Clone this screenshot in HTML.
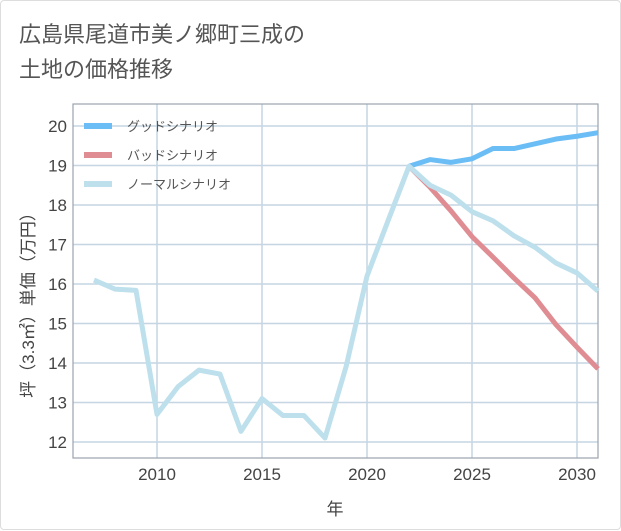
<!DOCTYPE html>
<html><head><meta charset="utf-8"><style>
body{margin:0;background:#fff;font-family:"Liberation Sans","Noto Sans CJK JP",sans-serif;}
#card{position:absolute;left:0;top:0;width:619px;height:528px;border:1px solid #ddd;border-radius:4px;background:#fff;}
#title{position:absolute;left:18px;top:16px;font-size:22px;line-height:35px;color:#555;}
</style></head><body>
<div id="card">
<div id="title">広島県尾道市美ノ郷町三成の<br>土地の価格推移</div>
<svg id="chart" width="621" height="530" style="position:absolute;left:0;top:0"></svg>
</div>
<script>
const years=[2007,2008,2009,2010,2011,2012,2013,2014,2015,2016,2017,2018,2019,2020,2021,2022,2023,2024,2025,2026,2027,2028,2029,2030,2031];
const normalValues=[16.1,15.87,15.84,12.7,13.4,13.82,13.72,12.27,13.1,12.67,12.67,12.1,13.9,16.2,17.6,18.98,18.5,18.25,17.83,17.6,17.22,16.93,16.53,16.28,15.82];
const goodYears=[2022,2023,2024,2025,2026,2027,2028,2029,2030,2031];
const goodValues=[18.98,19.15,19.08,19.17,19.43,19.43,19.55,19.67,19.74,19.83];
const badValues=[18.98,18.45,17.85,17.2,16.68,16.15,15.65,14.97,14.4,13.85];
const xTicks=[2010,2015,2020,2025,2030];
const yTicks=[12,13,14,15,16,17,18,19,20];
const legendLabels=["グッドシナリオ","バッドシナリオ","ノーマルシナリオ"];
const L=72,R=597,T=103,B=457;
const x=v=>L+(v-2006)/(2031-2006)*(R-L);
const y=v=>441-(v-12)*39.5;
const svg=document.getElementById('chart');
const NS='http://www.w3.org/2000/svg';
function mk(tag,attrs){const e=document.createElementNS(NS,tag);for(const k in attrs)e.setAttribute(k,attrs[k]);svg.appendChild(e);return e;}
for(const t of yTicks){
 const g=mk('line',{x1:L,x2:R,y1:y(t),y2:y(t),stroke:'#c5d5e2','stroke-width':1.5});
 
 
 const tx=mk('text',{x:L-6,y:y(t)+6,'text-anchor':'end','font-size':17,fill:'#444'});
 tx.textContent=t;
 
 
}
for(const t of xTicks){
 const g=mk('line',{x1:x(t),x2:x(t),y1:T,y2:B,stroke:'#c5d5e2','stroke-width':1.5});
 
 
 const tx=mk('text',{x:x(t),y:B+22,'text-anchor':'middle','font-size':17,fill:'#444'});
 tx.textContent=t;
 
 
}
const frame=mk('rect',{x:L,y:T,width:R-L,height:B-T,fill:'none',stroke:'#99a4ae','stroke-width':1.2});


function line(xs,vs,color,name){
 const p=mk('polyline',{points:xs.map((v,i)=>x(v)+','+y(vs[i])).join(' '),fill:'none',stroke:color,'stroke-width':5,'stroke-linejoin':'round'});
 
 
}
line(goodYears,goodValues,'#6bbdf5','good-scenario-line');
line(goodYears,badValues,'#df8c93','bad-scenario-line');
line(years,normalValues,'#bde0ec','normal-scenario-line');
const colors=['#6bbdf5','#df8c93','#bde0ec'];
legendLabels.forEach((lab,i)=>{
 const ly=125+i*29;
 const s=mk('line',{x1:83,x2:111,y1:ly,y2:ly,stroke:colors[i],'stroke-width':6});
 
 
 const t=mk('text',{x:126,y:ly+5,'font-size':13,fill:'#555'});
 t.textContent=lab;
 
 
});
const xt=mk('text',{x:334,y:514,'text-anchor':'middle','font-size':17,fill:'#444'});
xt.textContent='年';


const yt=mk('text',{x:0,y:0,'text-anchor':'middle','font-size':17,fill:'#444',transform:'translate(33,300) rotate(-90)'});
yt.textContent='坪（3.3㎡）単価（万円）';


</script>
</body></html>
